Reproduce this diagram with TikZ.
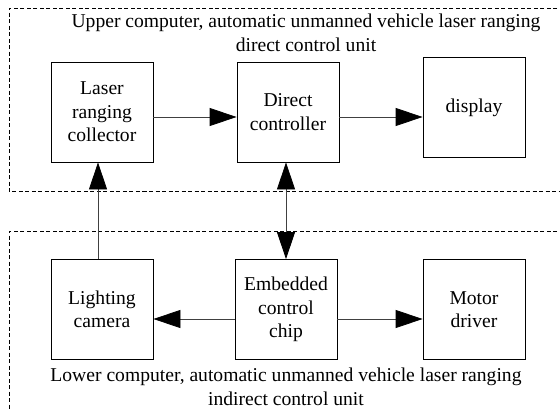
\documentclass[tikz,border=0pt]{standalone}
\usepackage{fontspec}
\setmainfont{Liberation Serif}
\usetikzlibrary{arrows.meta}

\begin{document}
\begin{tikzpicture}[x=1pt,y=-1pt,font=\rmfamily\fontsize{19.6}{23.5}\selectfont,
    block/.style={draw,line width=0.8pt,minimum width=102pt,minimum height=100pt,
      align=center,inner sep=2pt},
    arr/.style={-{Triangle[length=27pt,width=18pt,color=black]},line width=0.8pt,draw=black!75},
    biarr/.style={{Triangle[length=27pt,width=18pt,color=black]}-{Triangle[length=27pt,width=18pt,color=black]},
      line width=0.8pt,draw=black!75},
    unit/.style={dash pattern=on 4pt off 2.5pt,line width=0.7pt},
    unitname/.style={align=center,inner sep=0pt}]
        \useasboundingbox (0,0) rectangle (560,410);
        \clip (0,0) rectangle (560,410);
        \draw[unit] (570,8) -| (9,191) -- (570,191);
        \draw[unit] (570,231) -| (9,420);
        \node[unitname] (uppertitle) at (306,33) {Upper computer, automatic unmanned vehicle laser ranging\\direct control unit};
        \node[unitname] (lowertitle) at (286,387) {Lower computer, automatic unmanned vehicle laser ranging\\indirect control unit};
        \node[block] (laser) at (102,112) {Laser\\ranging\\collector};
        \node[block] (direct) at (288,112) {Direct\\controller};
        \node[block] (display) at (474,107.5) {display};
        \node[block] (camera) at (102,309.5) {Lighting\\camera};
        \node[block] (chip) at (286,309.5) {Embedded\\control\\chip};
        \node[block] (motor) at (474,309.5) {Motor\\driver};
        \draw[arr] ([yshift=-5pt]laser.east) -- ([yshift=-5pt]direct.west);
        \draw[arr] ([yshift=-5pt]direct.east) -- ([yshift=-5pt]direct.east -| display.west);
        \draw[arr] ([xshift=-4pt]camera.north) -- ([xshift=-4pt]laser.south);
        \draw[biarr] (chip.north) -- (chip.north |- direct.south);
        \draw[arr] ([yshift=-9.5pt]chip.west) -- ([yshift=-9.5pt]camera.east);
        \draw[arr] ([yshift=-9.5pt]chip.east) -- ([yshift=-9.5pt]motor.west);
      \end{tikzpicture}
\end{document}
